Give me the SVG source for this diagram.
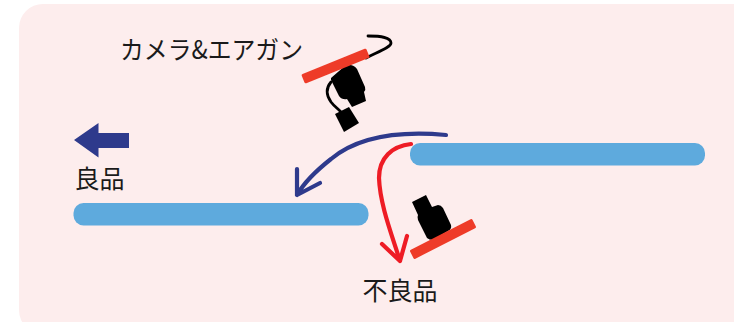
<svg xmlns="http://www.w3.org/2000/svg" width="734" height="322" viewBox="0 0 734 322">
<style>
.t{font-family:"Noto Sans CJK JP","Noto Sans",sans-serif;font-size:25px;fill:#1a1a1a}
.belt{fill:#5eaadd}
.plate{fill:#ee3b28}
.cam{fill:#000}
.wire{fill:none;stroke:#000;stroke-width:2.800;stroke-linecap:round}
.conn{fill:none;stroke-width:4.200;stroke-linecap:round;stroke-linejoin:round}
</style>
<rect width="734" height="322" fill="#fff"/>
<rect id="background" x="19" y="4" width="760" height="330" rx="24" fill="#fdeded"/>
<g id="label-camera"><text class="t" x="120" y="59" textLength="183" lengthAdjust="spacingAndGlyphs">カメラ&amp;エアガン</text></g>
<g id="camera-top">
<path class="wire" d="M368 36C381 36 391 37 391 43C391 47 380 51 366 58"/>
<path class="wire" d="M331 82C326 88 326 95 331 102C334 106 337 108 341 112"/>
<path class="cam" d="M331 78L346 65Q353 64 357 69L365 87Q366 90 364 92L366 101L352 107L347 99Q342 100 339 96L331 80Z"/>
<path class="cam" d="M335 114L349 107L359 123L344 132Z"/>
<rect class="plate" x="-35" y="-5" width="70" height="10" rx="1.500" transform="translate(335.500 66) rotate(-22)"/>
</g>
<g id="camera-bottom">
<path class="cam" d="M412 202L426 195L432 207L438 205Q441 205 443 208L451 225Q452 229 448 231L433 240Q429 240 427 238L418 220Q417 217 418 215Z"/>
<rect class="plate" x="-35" y="-5" width="70" height="10" rx="1.500" transform="translate(443 239) rotate(-27)"/>
</g>
<g id="belt-right"><rect class="belt" x="410" y="143" width="295" height="22.500" rx="10"/></g>
<g id="belt-left"><rect class="belt" x="73.500" y="203" width="295" height="22.500" rx="10"/></g>
<g id="label-good">
<path fill="#2e3a8c" d="M74 140L98.500 123V133H129V148H98.500V157.500Z"/>
<text class="t" x="74.500" y="188">良品</text>
</g>
<g id="label-reject"><text class="t" x="362.500" y="300">不良品</text></g>
<g id="connectors">
<path class="conn" stroke="#2e3a8c" d="M446 135C402 131 360 135 331 159C317 170 305 181 297 195M297 169L297 195L320 183"/>
<path class="conn" stroke="#ee1c25" d="M411 144C392 146 379 158 379 178C380 205 392 235 400 261M382 244L400 261L407 236"/>
</g>
</svg>
